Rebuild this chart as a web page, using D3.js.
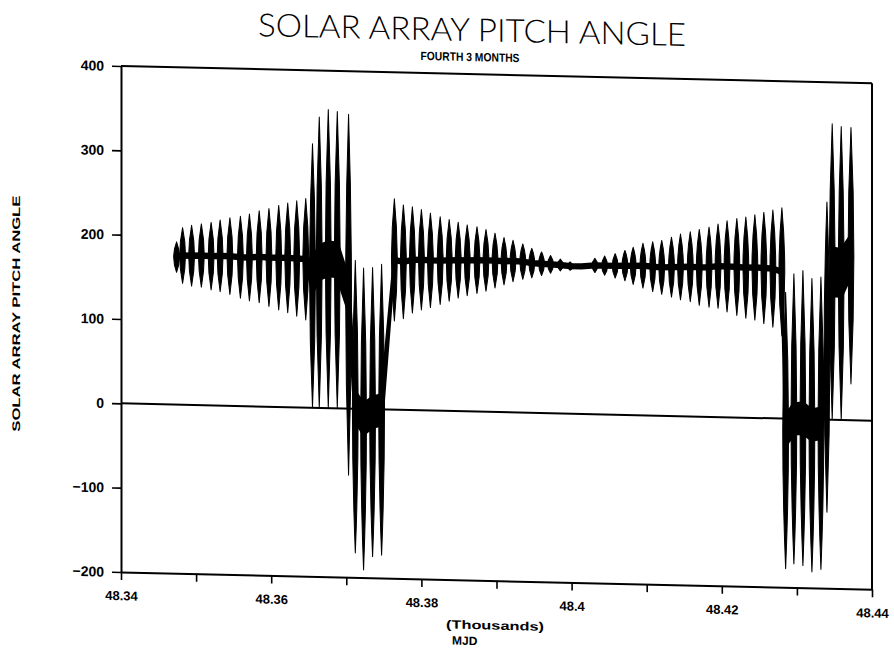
<!DOCTYPE html>
<html>
<head>
<meta charset="utf-8">
<script src="https://cdn.jsdelivr.net/npm/d3@7"></script>
<style>
  html, body { margin: 0; padding: 0; background: #fff; }
  svg { display: block; }
  text { fill: #000; }
</style>
</head>
<body>
<svg id="chart" width="894" height="650"></svg>
<script>
// ---------------- data ----------------
const titleText = "SOLAR ARRAY PITCH ANGLE";
const subtitleText = "FOURTH 3 MONTHS";
const yAxisTitle = "SOLAR ARRAY PITCH ANGLE";
const xAxisTitle1 = "(Thousands)";
const xAxisTitle2 = "MJD";

// x axis in MJD days, labelled in thousands
const xDomain = [48340, 48440];
const xTicks = [48340, 48350, 48360, 48370, 48380, 48390, 48400, 48410, 48420, 48430, 48440];
const xLabelTicks = [48340, 48360, 48380, 48400, 48420, 48440];
const xTickLabels = ["48.34", "48.36", "48.38", "48.4", "48.42", "48.44"];

const yDomain = [-200, 400];
const yTicks = [-200, -100, 0, 100, 200, 300, 400];
const yTickLabels = ["\u2212200", "\u2212100", "0", "100", "200", "300", "400"];

// one entry per oscillation burst: time (MJD), highest and lowest angle reached
const burstMJD = [
  48347.4, 48348.2, 48349.4, 48350.7, 48352.0, 48353.2, 48354.5, 48355.9, 48357.1, 48358.4,
  48359.7, 48361.0, 48362.2, 48363.4, 48364.6,
  48365.5, 48366.4, 48367.6, 48368.8, 48370.3,
  48371.2, 48372.3, 48373.5, 48374.7,
  48376.4, 48377.6, 48378.8, 48380.0, 48381.2, 48382.5, 48383.7, 48384.9, 48386.1, 48387.4,
  48388.6, 48389.8, 48391.0, 48392.2, 48393.5, 48394.7, 48396.0, 48397.2, 48398.5, 48399.8,
  48401.3, 48403.1, 48404.4, 48405.8, 48407.1, 48408.2, 48409.5, 48410.8, 48412.0, 48413.3,
  48414.5, 48415.8, 48417.0, 48418.3, 48419.5, 48420.7, 48422.0, 48423.2, 48424.4, 48425.6,
  48426.8, 48428.0,
  48428.5, 48429.6, 48430.8, 48432.0, 48433.2,
  48434.0, 48434.7, 48435.9, 48437.2
];
const burstMax = [
  193, 210, 213, 215, 217, 220, 223, 225, 228, 232,
  235, 239, 242, 245, 248,
  313, 345, 354, 352, 349,
  176, 167, 168, 172,
  250, 243, 241, 238, 234, 230, 227, 224, 221, 219,
  216, 212, 207, 204, 200, 195, 191, 187, 183, 180,
  177, 185, 188, 191, 195, 199, 204, 206, 208, 212,
  216, 219, 222, 225, 229, 233, 236, 238, 241, 244,
  247, 250,
  150, 172, 176, 167, 169,
  258, 351, 348, 347
];
const burstMin = [
  157, 144, 141, 140, 137, 135, 132, 128, 125, 123,
  119, 115, 112, 108, 104,
  0, 0, 0, 0, -79,
  -171, -191, -175, -173,
  105, 108, 115, 119, 122, 126, 130, 134, 137, 140,
  143, 147, 151, 155, 158, 160, 163, 166, 169, 170,
  173, 168, 165, 162, 159, 155, 151, 147, 144, 141,
  138, 136, 132, 130, 129, 125, 121, 118, 116, 112,
  108, 98,
  -178, -172, -174, -181, -178,
  -110, 0, 0, 43
];
// half-spread (degrees) of the trace in the quiet part after each burst
const burstFloor = [
  2, 2, 2, 2, 2, 2, 2, 2, 2, 2,
  2, 2, 2, 2, 2,
  20, 20, 20, 20, 20,
  18, 18, 18, 18,
  2, 2, 2, 2, 2, 2, 2, 2, 2, 2,
  2, 2, 2, 2, 2, 2, 2, 2, 2, 2,
  2, 2, 2, 2, 2, 2, 2, 2, 2, 2,
  2, 2, 2, 2, 2, 2, 2, 2, 2, 2,
  2, 2,
  18, 18, 18, 18, 18,
  28, 28, 28, 24
];

// ---------------- drawing ----------------
const svg = d3.select("#chart");
const FONT = "'Liberation Sans', Arial, Helvetica, sans-serif";

// the scanned original is slightly sheared; reproduce it with a skew
const root = svg.append("g")
  .attr("transform", "translate(121,0) skewY(1.32) translate(-121,0)");

const x = d3.scaleLinear().domain(xDomain).range([121, 872]);
const y = d3.scaleLinear().domain(yDomain).range([572, 66]);

// titles
root.append("text")
  .attr("x", 472).attr("y", 33)
  .attr("text-anchor", "middle")
  .attr("font-family", "Lato, 'Liberation Sans', sans-serif")
  .attr("font-weight", 300)
  .attr("font-size", 32)
  .attr("textLength", 428).attr("lengthAdjust", "spacingAndGlyphs")
  .text(titleText);

root.append("text")
  .attr("x", 470).attr("y", 53)
  .attr("text-anchor", "middle")
  .attr("font-family", FONT)
  .attr("font-weight", "bold")
  .attr("font-size", 12)
  .attr("textLength", 99).attr("lengthAdjust", "spacingAndGlyphs")
  .text(subtitleText);

// y axis title
root.append("text")
  .attr("transform", "translate(20,316) rotate(-90)")
  .attr("text-anchor", "middle")
  .attr("font-family", FONT)
  .attr("font-weight", "bold")
  .attr("font-size", 11)
  .attr("textLength", 236).attr("lengthAdjust", "spacingAndGlyphs")
  .text(yAxisTitle);

// x axis titles
root.append("text")
  .attr("x", 446).attr("y", 621)
  .attr("font-family", FONT).attr("font-weight", "bold").attr("font-size", 12)
  .attr("textLength", 98).attr("lengthAdjust", "spacingAndGlyphs")
  .text(xAxisTitle1);
root.append("text")
  .attr("x", 452).attr("y", 637)
  .attr("font-family", FONT).attr("font-weight", "bold").attr("font-size", 12)
  .text(xAxisTitle2);

// frame (top and right)
root.append("line")
  .attr("x1", x(xDomain[0])).attr("x2", x(xDomain[1]))
  .attr("y1", y(yDomain[1])).attr("y2", y(yDomain[1]))
  .attr("stroke", "#000").attr("stroke-width", 2);
root.append("line")
  .attr("x1", x(xDomain[1])).attr("x2", x(xDomain[1]))
  .attr("y1", y(yDomain[1])).attr("y2", y(yDomain[0]))
  .attr("stroke", "#000").attr("stroke-width", 2);

// zero reference line
root.append("line")
  .attr("x1", x(xDomain[0])).attr("x2", x(xDomain[1]))
  .attr("y1", y(0)).attr("y2", y(0))
  .attr("stroke", "#000").attr("stroke-width", 2);

// axes
const yAxis = d3.axisLeft(y)
  .tickValues(yTicks)
  .tickFormat((d, i) => yTickLabels[i])
  .tickSize(9).tickSizeOuter(0).tickPadding(8);
const gy = root.append("g").attr("transform", `translate(${x(xDomain[0])},0)`).call(yAxis);

const xAxis = d3.axisBottom(x)
  .tickValues(xTicks)
  .tickFormat(d => { const k = xLabelTicks.indexOf(d); return k >= 0 ? xTickLabels[k] : ""; })
  .tickSize(8).tickSizeOuter(0).tickPadding(11);
const gx = root.append("g").attr("transform", `translate(0,${y(yDomain[0])})`).call(xAxis);

[gx, gy].forEach(g => {
  g.select(".domain").attr("stroke", "#000").attr("stroke-width", 2);
  g.selectAll(".tick line").attr("stroke", "#000").attr("stroke-width", 1.6);
  g.selectAll(".tick text")
    .attr("font-family", FONT).attr("font-weight", "bold")
    .attr("fill", "#000");
});
gy.selectAll(".tick text").attr("font-size", 14);
gx.selectAll(".tick text").attr("font-size", 13);

// data
const bursts = burstMJD.map((t, i) => ({ t, hi: burstMax[i], lo: burstMin[i], fl: burstFloor[i] }));
const mid = d => (d.hi + d.lo) / 2;

const plot = root.append("g");

// quiet-part band of the trace between bursts
const band = d3.area()
  .x(d => x(d.t))
  .y0(d => y(mid(d) - d.fl))
  .y1(d => y(mid(d) + d.fl));
plot.append("path")
  .datum(bursts)
  .attr("d", band)
  .attr("fill", "#000")
  .attr("stroke", "#000")
  .attr("stroke-width", 3)
  .attr("stroke-linejoin", "round");

// each burst drawn as a filled spindle between its extremes
const hw = 2.9;
plot.selectAll("path.burst")
  .data(bursts)
  .join("path")
  .attr("class", "burst")
  .attr("d", d => {
    const cx = x(d.t), yt = y(d.hi), yb = y(d.lo), cy = (yt + yb) / 2;
    return `M${cx},${yt} Q${cx + 2 * hw},${cy} ${cx},${yb} Q${cx - 2 * hw},${cy} ${cx},${yt} Z`;
  })
  .attr("fill", "#000")
  .attr("stroke", "#000")
  .attr("stroke-width", 1)
  .attr("stroke-linejoin", "round");
</script>
</body>
</html>
